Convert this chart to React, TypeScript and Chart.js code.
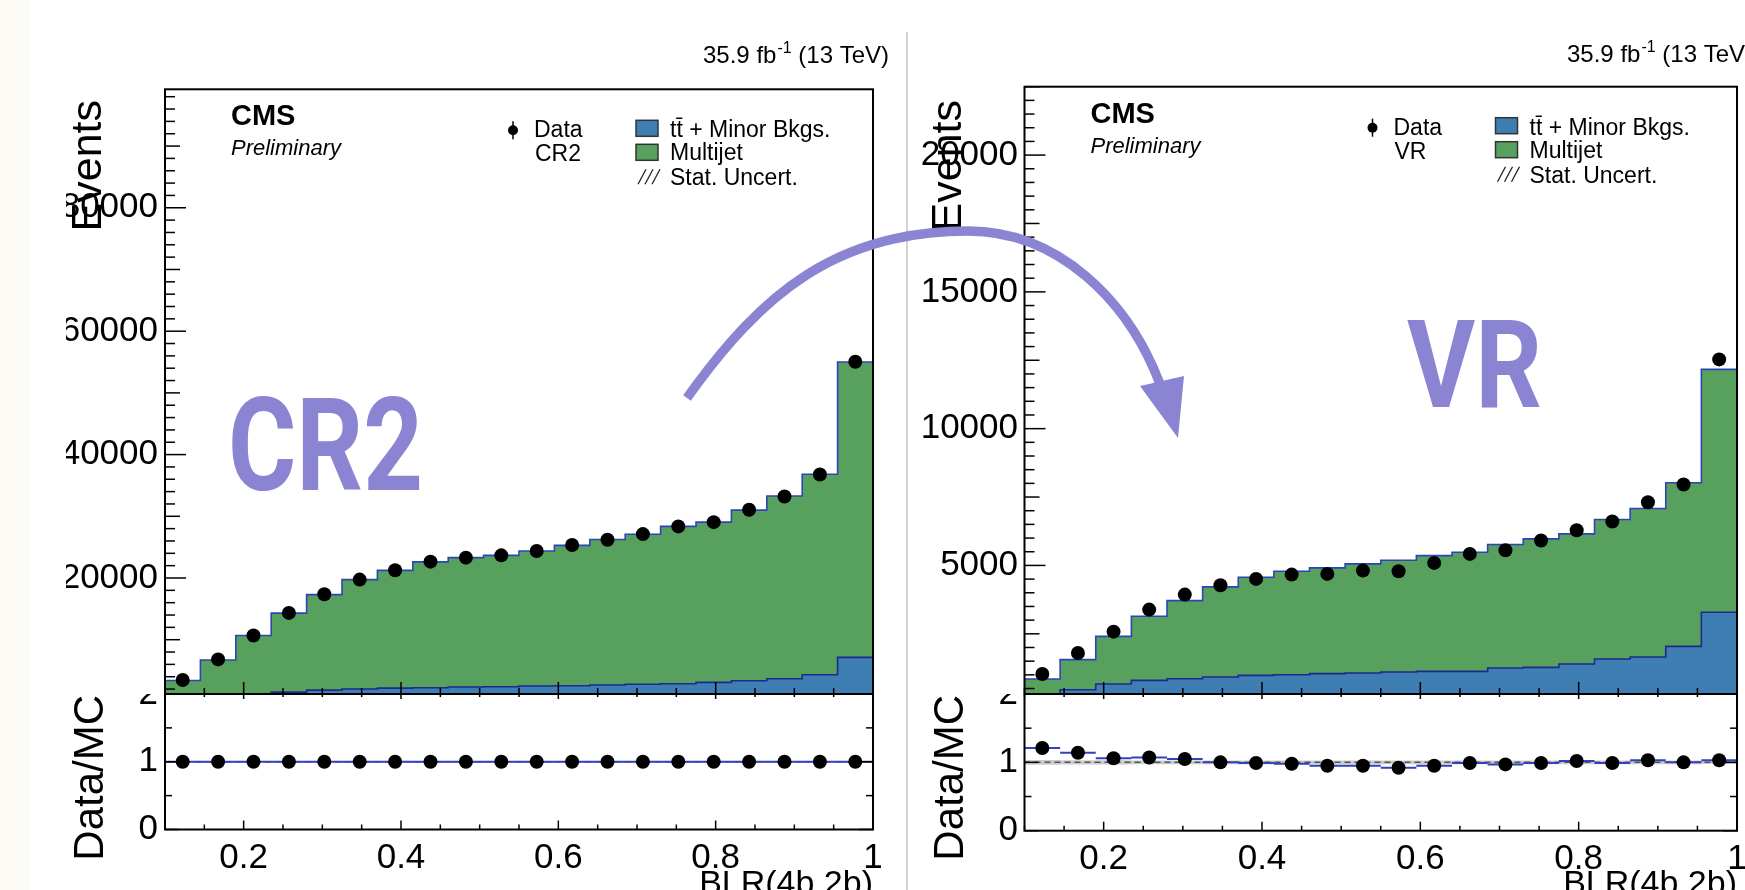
import React, { useEffect, useRef } from 'react';
import { Chart, registerables } from 'chart.js';

Chart.register(...registerables);

// ---------------- data ----------------
const binEdges = [0.1, 0.145, 0.19, 0.235, 0.28, 0.325, 0.37, 0.415, 0.46, 0.505, 0.55, 0.595, 0.64, 0.685, 0.73, 0.775, 0.82, 0.865, 0.91, 0.955, 1.0];

const cr2Data = [3460, 6810, 10690, 14340, 17370, 19740, 21250, 22650, 23300, 23670, 24370, 25340, 26210, 27110, 28360, 29050, 31060, 33210, 36770, 55040];
const cr2Ttbar = [500, 700, 1000, 1500, 1820, 2000, 2150, 2220, 2330, 2380, 2490, 2540, 2650, 2770, 2860, 3090, 3350, 3670, 4320, 7130];
const cr2Multijet = [2900, 6000, 9690, 12800, 15480, 17740, 19090, 20400, 20970, 21290, 21880, 22750, 23580, 24320, 25500, 25960, 27650, 29620, 32500, 47870];
const cr2Ratio = [1.0, 1.0, 1.0, 1.0, 1.0, 1.0, 1.0, 1.0, 1.0, 1.0, 1.0, 1.0, 1.0, 1.0, 1.0, 1.0, 1.0, 1.0, 1.0, 1.0];
const cr2StatUnc = [0.012, 0.01, 0.008, 0.008, 0.007, 0.007, 0.007, 0.007, 0.007, 0.007, 0.007, 0.007, 0.007, 0.007, 0.007, 0.007, 0.007, 0.007, 0.007, 0.006];

const vrData = [1032, 1800, 2580, 3385, 3933, 4274, 4508, 4665, 4690, 4811, 4786, 5093, 5422, 5555, 5909, 6287, 6604, 7311, 7958, 12532];
const vrTtbar = [200, 457, 666, 798, 860, 922, 981, 1006, 1043, 1068, 1105, 1127, 1127, 1251, 1273, 1398, 1581, 1654, 2042, 3286];
const vrMultijet = [649, 1098, 1742, 2342, 2854, 3293, 3586, 3780, 3867, 3989, 4083, 4233, 4354, 4512, 4698, 4756, 5097, 5426, 5978, 8880];
const vrRatio = [1.21, 1.14, 1.06, 1.07, 1.05, 1.0, 0.99, 0.98, 0.95, 0.95, 0.92, 0.95, 0.99, 0.97, 0.99, 1.02, 0.99, 1.03, 1.0, 1.03];
const vrStatUnc = [0.035, 0.03, 0.03, 0.028, 0.028, 0.027, 0.027, 0.027, 0.027, 0.027, 0.027, 0.027, 0.027, 0.027, 0.027, 0.027, 0.027, 0.027, 0.027, 0.025];

// tick labels
const xTickValues = [0.2, 0.4, 0.6, 0.8, 1.0];
const cr2YTicks = [20000, 40000, 60000, 80000];
const vrYTicks = [5000, 10000, 15000, 20000];
const ratioYTicks = [0, 1, 2];

// ---------------- styles ----------------
const FONT = '"Liberation Sans", Arial, Helvetica, sans-serif';
const BLUE = '#3e7eb3';
const GREEN = '#57a05d';
const NAVY = '#1c2a8e';
const OUTLINE = '#2c44b8';
const RATIO_BLUE = '#3042c0';
const PURPLE = '#8b84d3';

const MAIN_H = 694;
const RATIO_H = 196;

const centers = binEdges.slice(0, -1).map((e, i) => (e + binEdges[i + 1]) / 2);
const stepPts = (vals: number[]) => binEdges.map((x, i) => ({ x, y: vals[Math.min(i, vals.length - 1)] }));
const fixTicks = (vals: number[]) => (s: any) => { s.ticks = vals.map((v) => ({ value: v })); };
const noPad = (s: any) => { s.paddingTop = 0; s.paddingBottom = 0; s.paddingLeft = 0; s.paddingRight = 0; };

const leftPanel = {
  canvasX: 66, canvasW: 839, axisW: 99, padRight: 32, mainTop: 89.3, ratioAxisH: 60.5, labelPad: 7,
  yMin: 1200, yMax: 99200, yTicks: cr2YTicks, yMinor: 2000,
  data: cr2Data, ttbar: cr2Ttbar, multijet: cr2Multijet, ratio: cr2Ratio, statUnc: cr2StatUnc,
  region: 'CR2', big: { text: 'CR2', x: 162, baseline: 490, width: 195, cap: 92 }, lumiBaseline: 63,
};
const rightPanel = {
  canvasX: 907, canvasW: 838, axisW: 117.5, padRight: 8, mainTop: 86.7, ratioAxisH: 59.3, labelPad: 6.5,
  yMin: 300, yMax: 22500, yTicks: vrYTicks, yMinor: 500,
  data: vrData, ttbar: vrTtbar, multijet: vrMultijet, ratio: vrRatio, statUnc: vrStatUnc,
  region: 'VR', big: { text: 'VR', x: 500, baseline: 407, width: 135, cap: 87 }, lumiBaseline: 62,
};

function seg(ctx: any, x1: number, y1: number, x2: number, y2: number) {
  ctx.beginPath();
  ctx.moveTo(x1, y1);
  ctx.lineTo(x2, y2);
  ctx.stroke();
}

function mainConfig(p: any): any {
  return {
    type: 'line',
    data: {
      datasets: [
        { label: 'Data', data: centers.map((x, i) => ({ x, y: p.data[i] })), showLine: false, pointRadius: 7, pointHoverRadius: 7, pointBackgroundColor: '#000', pointBorderWidth: 0, stack: 'data' },
        { label: 'ttbar', data: stepPts(p.ttbar), stepped: 'before', fill: 'origin', backgroundColor: BLUE, borderColor: NAVY, borderWidth: 1.6, pointRadius: 0, stack: 'mc' },
        { label: 'Multijet', data: stepPts(p.multijet), stepped: 'before', fill: '-1', backgroundColor: GREEN, borderColor: OUTLINE, borderWidth: 1.6, pointRadius: 0, stack: 'mc' },
      ],
    },
    options: {
      animation: false, responsive: false, devicePixelRatio: 1, events: [],
      layout: { autoPadding: false, padding: { left: 0, top: p.mainTop, right: p.padRight, bottom: 0 } },
      plugins: { legend: { display: false }, tooltip: { enabled: false } },
      scales: {
        x: { type: 'linear', min: 0.1, max: 1.0, display: false, afterFit: noPad },
        y: {
          type: 'linear', stacked: true, min: p.yMin, max: p.yMax,
          afterBuildTicks: fixTicks(p.yTicks),
          afterFit: (s: any) => { s.width = p.axisW; noPad(s); },
          grid: { display: false, drawTicks: false }, border: { display: false },
          ticks: { autoSkip: false, padding: p.labelPad, color: '#000', font: { family: FONT, size: 35 }, callback: (v: any) => String(v) },
        },
      },
    },
    plugins: [{
      id: 'mainDecor',
      afterDraw(chart: any) {
        const ctx = chart.ctx;
        const { left, right, top, bottom } = chart.chartArea;
        const xs = chart.scales.x, ys = chart.scales.y;
        ctx.save();
        ctx.strokeStyle = '#000';
        ctx.lineWidth = 1.5;
        // y ticks
        const kMin = Math.ceil(p.yMin / p.yMinor), kMax = Math.floor(p.yMax / p.yMinor);
        for (let k = kMin; k <= kMax; k++) {
          const py = ys.getPixelForValue(k * p.yMinor);
          const len = k % 10 === 0 ? 21 : k % 5 === 0 ? 15 : 10;
          seg(ctx, left, py, left + len, py);
        }
        // x ticks on bottom, pointing up
        for (let k = 2; k <= 20; k++) {
          const px = xs.getPixelForValue(k * 0.05);
          seg(ctx, px, bottom, px, bottom - (k % 4 === 0 ? 12 : 6));
        }
        // frame
        ctx.lineWidth = 2;
        ctx.strokeRect(left, top, right - left, bottom - top);

        ctx.fillStyle = '#000';
        ctx.textBaseline = 'alphabetic';
        ctx.textAlign = 'left';
        // lumi label
        let lx = right - 170;
        ctx.font = `24px ${FONT}`;
        ctx.fillText('35.9 fb', lx, p.lumiBaseline);
        lx += ctx.measureText('35.9 fb').width + 1;
        ctx.font = `16px ${FONT}`;
        ctx.fillText('-1', lx, p.lumiBaseline - 10);
        lx += ctx.measureText('-1').width;
        ctx.font = `24px ${FONT}`;
        ctx.fillText(' (13 TeV)', lx, p.lumiBaseline);
        // CMS / Preliminary
        ctx.font = `bold 29px ${FONT}`;
        ctx.fillText('CMS', left + 66, top + 36);
        ctx.font = `italic 22px ${FONT}`;
        ctx.fillText('Preliminary', left + 66, top + 66);
        // legend
        ctx.font = `23px ${FONT}`;
        ctx.beginPath();
        ctx.arc(left + 348, top + 41, 5, 0, Math.PI * 2);
        ctx.fill();
        ctx.lineWidth = 1.5;
        seg(ctx, left + 348, top + 32, left + 348, top + 50);
        ctx.fillText('Data', left + 369, top + 48);
        ctx.fillText(p.region, left + 370, top + 72);
        const bx = left + 471;
        ctx.lineWidth = 1.5;
        ctx.strokeStyle = '#333';
        ctx.fillStyle = BLUE;
        ctx.fillRect(bx, top + 31, 22, 16);
        ctx.strokeRect(bx, top + 31, 22, 16);
        ctx.fillStyle = GREEN;
        ctx.fillRect(bx, top + 55, 22, 16);
        ctx.strokeRect(bx, top + 55, 22, 16);
        ctx.strokeStyle = '#222';
        ctx.lineWidth = 1.3;
        for (let i = 0; i < 3; i++) {
          const ox = bx + 2 + i * 7;
          seg(ctx, ox, top + 95, ox + 8, top + 80);
        }
        ctx.fillStyle = '#000';
        ctx.fillText('tt\u0304 + Minor Bkgs.', left + 505, top + 48);
        ctx.fillText('Multijet', left + 505, top + 71);
        ctx.fillText('Stat. Uncert.', left + 505, top + 96);
        // y title
        ctx.save();
        ctx.translate(left - 64, 100);
        ctx.rotate(-Math.PI / 2);
        ctx.textAlign = 'right';
        ctx.font = `43px ${FONT}`;
        ctx.fillText('Events', 0, 0);
        ctx.restore();
        // big region annotation
        const b = p.big;
        const size = b.cap / 0.711;
        ctx.font = `bold ${size}px Roboto, ${FONT}`;
        const w = ctx.measureText(b.text).width;
        ctx.save();
        ctx.translate(b.x, b.baseline);
        ctx.scale(b.width / w, 1);
        ctx.fillStyle = PURPLE;
        ctx.textAlign = 'left';
        ctx.fillText(b.text, 0, 0);
        ctx.restore();
        ctx.restore();
      },
    }],
  };
}

function ratioConfig(p: any): any {
  const segs: any[] = [];
  p.ratio.forEach((r: number, i: number) => {
    segs.push({ x: binEdges[i], y: r }, { x: binEdges[i + 1], y: r }, { x: binEdges[i + 1], y: null });
  });
  return {
    type: 'line',
    data: {
      datasets: [
        { data: centers.map((x, i) => ({ x, y: p.ratio[i] })), showLine: false, pointRadius: 7, pointHoverRadius: 7, pointBackgroundColor: '#000', pointBorderWidth: 0 },
        { data: segs, borderColor: RATIO_BLUE, borderWidth: 2, pointRadius: 0, spanGaps: false },
        { data: [{ x: 0.1, y: 1 }, { x: 1.0, y: 1 }], borderColor: '#555', borderWidth: 1.5, borderDash: [6, 4], pointRadius: 0 },
        { data: stepPts(p.statUnc.map((u: number) => 1 + u)), stepped: 'before', borderColor: 'transparent', pointRadius: 0, fill: false },
        { data: stepPts(p.statUnc.map((u: number) => 1 - u)), stepped: 'before', borderColor: 'transparent', pointRadius: 0, fill: '-1', backgroundColor: 'rgba(185,185,185,0.75)' },
      ],
    },
    options: {
      animation: false, responsive: false, devicePixelRatio: 1, events: [],
      layout: { autoPadding: false, padding: { left: 0, top: 0, right: p.padRight, bottom: 0 } },
      plugins: { legend: { display: false }, tooltip: { enabled: false } },
      scales: {
        x: {
          type: 'linear', min: 0.1, max: 1.0, position: 'bottom',
          afterBuildTicks: fixTicks(xTickValues),
          afterFit: (s: any) => { s.height = p.ratioAxisH; noPad(s); },
          grid: { display: false, drawTicks: false }, border: { display: false },
          ticks: { autoSkip: false, maxRotation: 0, padding: 8, color: '#000', font: { family: FONT, size: 35 }, callback: (v: any) => (Math.abs(v - 1) < 1e-9 ? '1' : Number(v).toFixed(1)) },
        },
        y: {
          type: 'linear', min: 0, max: 2,
          afterBuildTicks: fixTicks(ratioYTicks),
          afterFit: (s: any) => { s.width = p.axisW; noPad(s); },
          grid: { display: false, drawTicks: false }, border: { display: false },
          ticks: { autoSkip: false, padding: p.labelPad, color: '#000', font: { family: FONT, size: 35 }, callback: (v: any) => String(v) },
        },
      },
    },
    plugins: [{
      id: 'ratioDecor',
      afterDraw(chart: any) {
        const ctx = chart.ctx;
        const { left, right, top, bottom } = chart.chartArea;
        const xs = chart.scales.x, ys = chart.scales.y;
        ctx.save();
        ctx.strokeStyle = '#000';
        ctx.lineWidth = 1.5;
        for (let k = 0; k <= 4; k++) {
          const py = ys.getPixelForValue(k * 0.5);
          const len = k % 2 === 0 ? 14 : 7;
          seg(ctx, left, py, left + len, py);
          seg(ctx, right, py, right - len, py);
        }
        for (let k = 2; k <= 20; k++) {
          const px = xs.getPixelForValue(k * 0.05);
          const major = k % 4 === 0;
          seg(ctx, px, bottom, px, bottom - (major ? 9 : 5));
          seg(ctx, px, top, px, top + (major ? 5 : 3));
        }
        ctx.lineWidth = 2;
        ctx.strokeRect(left, top, right - left, bottom - top);
        ctx.fillStyle = '#000';
        ctx.save();
        ctx.translate(left - 62, 1);
        ctx.rotate(-Math.PI / 2);
        ctx.textAlign = 'right';
        ctx.textBaseline = 'alphabetic';
        ctx.font = `42px ${FONT}`;
        ctx.fillText('Data/MC', 0, 0);
        ctx.restore();
        ctx.textAlign = 'right';
        ctx.textBaseline = 'alphabetic';
        ctx.font = `34px ${FONT}`;
        ctx.fillText('BLR(4b,2b)', right, 200);
        ctx.restore();
      },
    }],
  };
}

function Panel({ p }: { p: any }) {
  const mainRef = useRef<HTMLCanvasElement>(null);
  const ratioRef = useRef<HTMLCanvasElement>(null);
  useEffect(() => {
    const main = new Chart(mainRef.current as HTMLCanvasElement, mainConfig(p));
    const ratio = new Chart(ratioRef.current as HTMLCanvasElement, ratioConfig(p));
    return () => { main.destroy(); ratio.destroy(); };
  }, []);
  return (
    <>
      <canvas ref={mainRef} width={p.canvasW} height={MAIN_H} style={{ position: 'absolute', left: p.canvasX, top: 0, width: p.canvasW, height: MAIN_H }} />
      <canvas ref={ratioRef} width={p.canvasW} height={RATIO_H} style={{ position: 'absolute', left: p.canvasX, top: MAIN_H, width: p.canvasW, height: RATIO_H }} />
    </>
  );
}

// decorative arrow (two cubic segments: start -> apex -> arrowhead)
const arrowPath = 'M 687 398 C 762 292 838 231 968 231 C 1058 231 1128 300 1160 384';

export default function App() {
  return (
    <div style={{ position: 'fixed', left: 0, top: 0, width: 1745, height: 890, background: '#fff', overflow: 'hidden' }}>
      <div style={{ position: 'absolute', left: 0, top: 0, width: 29, height: 890, background: '#fdfbf5' }} />
      <div style={{ position: 'absolute', left: 906, top: 32, width: 1.5, height: 858, background: '#d4d4d4' }} />
      <Panel p={leftPanel} />
      <Panel p={rightPanel} />
      <svg width={1745} height={890} style={{ position: 'absolute', left: 0, top: 0, pointerEvents: 'none' }}>
        <path d={arrowPath} fill="none" stroke={PURPLE} strokeWidth={9.5} />
        <polygon points="1140,386 1184,376 1178,438" fill={PURPLE} />
      </svg>
    </div>
  );
}
